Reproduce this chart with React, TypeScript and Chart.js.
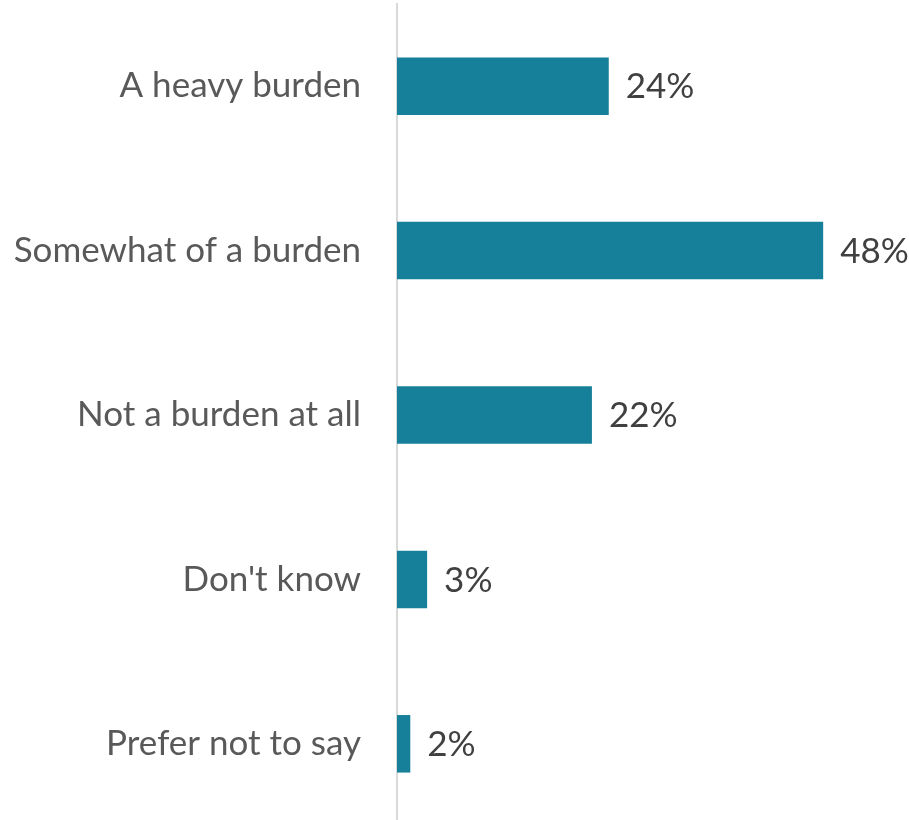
import React, { useEffect, useRef } from "react";
import { Chart, registerables } from "chart.js";

Chart.register(...registerables);

const categories = [
  "A heavy burden",
  "Somewhat of a burden",
  "Not a burden at all",
  "Don't know",
  "Prefer not to say",
];
const values = [23.9, 48.1, 22.0, 3.4, 1.5];
const valueLabels = ["24%", "48%", "22%", "3%", "2%"];

const FONT = "Lato, 'Open Sans', sans-serif";

const dataLabelPlugin = {
  id: "dataLabels",
  afterDatasetsDraw(chart: any) {
    const { ctx } = chart;
    const meta = chart.getDatasetMeta(0);
    ctx.save();
    ctx.font = `35px ${FONT}`;
    ctx.fillStyle = "#404040";
    ctx.textAlign = "left";
    ctx.textBaseline = "middle";
    meta.data.forEach((bar: any, i: number) => {
      ctx.fillText(valueLabels[i], bar.x + 17, bar.y + 1);
    });
    ctx.restore();
  },
};

export default function App() {
  const ref = useRef<HTMLCanvasElement>(null);
  useEffect(() => {
    if (!ref.current) return;
    const chart = new Chart(ref.current, {
      type: "bar",
      data: {
        labels: categories,
        datasets: [
          {
            data: values,
            backgroundColor: "#167f99",
            barPercentage: 0.7,
            categoryPercentage: 0.5,
          },
        ],
      },
      options: {
        indexAxis: "y",
        animation: false,
        responsive: false,
        maintainAspectRatio: false,
        layout: { padding: { top: 4, right: 69, bottom: 0, left: 0 } },
        plugins: { legend: { display: false }, tooltip: { enabled: false } },
        scales: {
          x: { display: false, min: 0, max: 50 },
          y: {
            afterFit: (scale: any) => {
              scale.width = 397;
              scale.paddingTop = 0;
              scale.paddingBottom = 0;
            },
            grid: { display: false, drawTicks: false },
            border: { display: true, color: "#d9d9d9", width: 2 },
            ticks: {
              padding: 36,
              color: "#595959",
              font: { family: FONT, size: 35 },
            },
          },
        },
      },
      plugins: [dataLabelPlugin],
    });
    return () => chart.destroy();
  }, []);
  return (
    <div style={{ position: "fixed", left: 0, top: 0, width: 909, height: 826, background: "#fff" }}>
      <canvas ref={ref} width={909} height={826} style={{ width: 909, height: 826 }} />
    </div>
  );
}
